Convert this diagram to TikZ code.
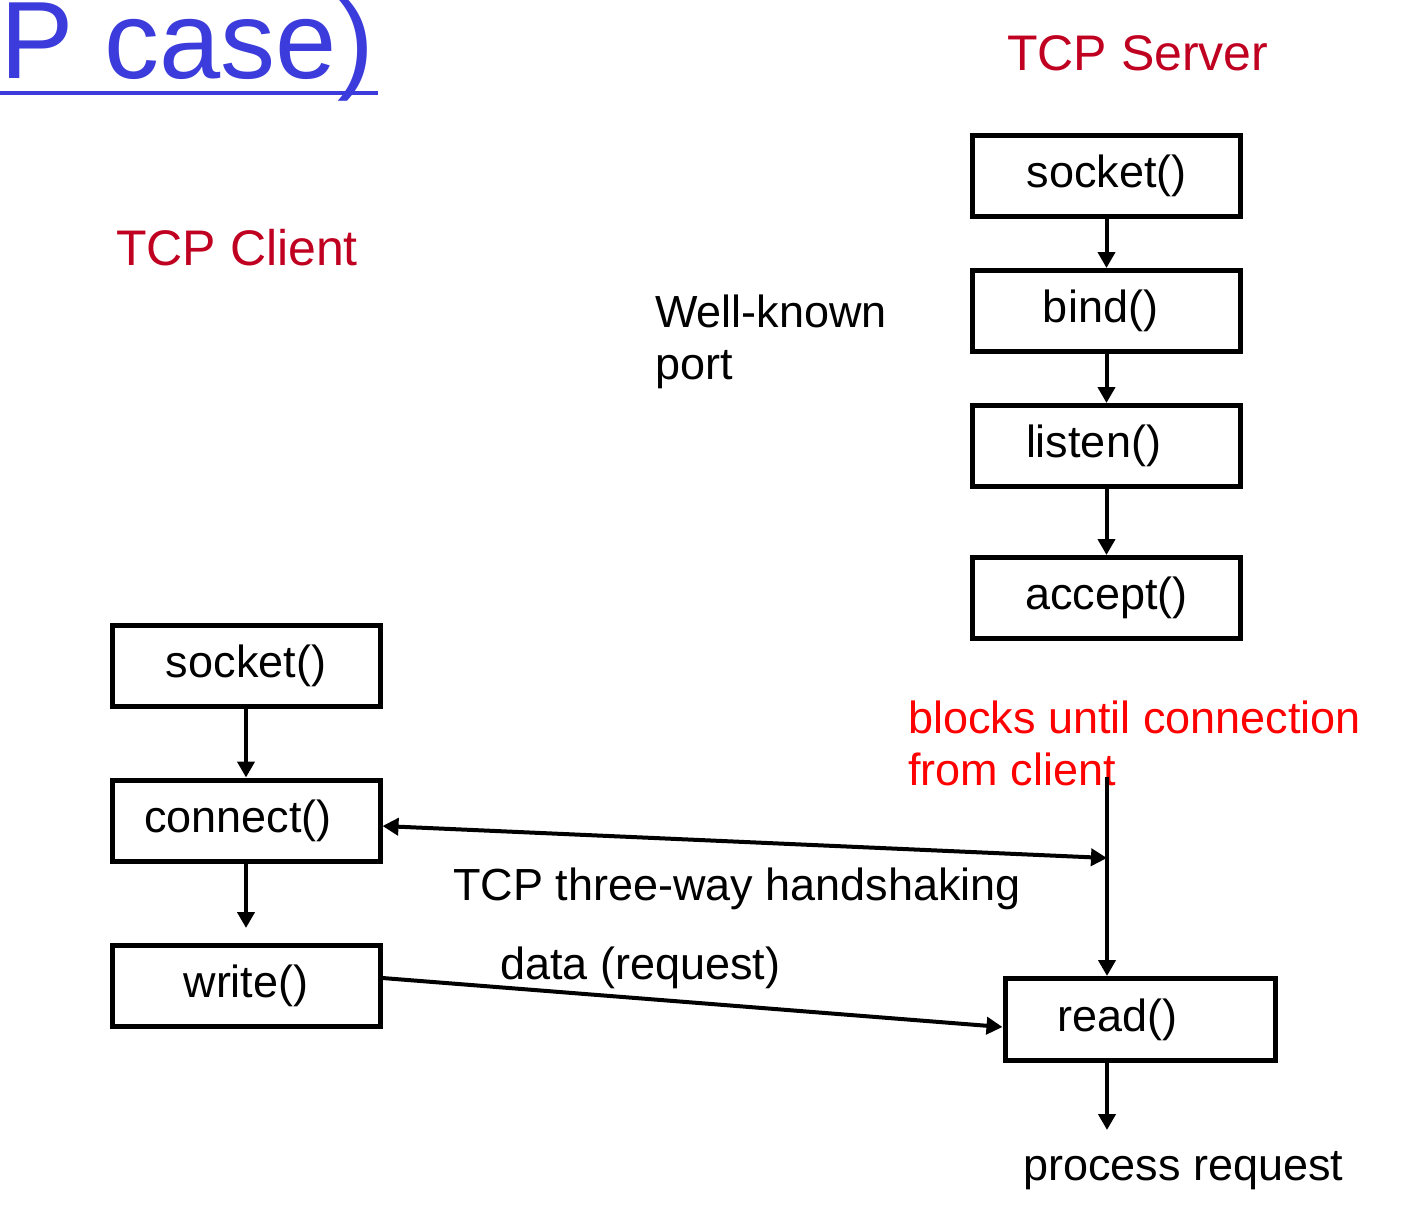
\documentclass[tikz,border=0pt]{standalone}
\usepackage{fontspec}
\setmainfont{Liberation Sans}
\usetikzlibrary{arrows.meta}
\definecolor{titleblue}{RGB}{60,60,220}
\definecolor{headred}{RGB}{192,0,32}
\definecolor{notered}{RGB}{255,0,0}
% nudge a box label to the left by #1 (half the kern is absorbed by centring)
\newcommand{\nudge}[1]{\hspace*{-#1}}

\begin{document}
\begin{tikzpicture}[x=1pt,y=-1pt,
  box/.style={draw, line width=5pt, minimum width=268pt, minimum height=81pt,
              inner sep=0pt, font=\fontsize{45}{54}\selectfont},
  tip/.tip={Triangle[length=16pt,width=17pt]},
  flow/.style={line width=4pt, -tip},
  txt/.style={font=\fontsize{45}{52}\selectfont, inner sep=0pt, align=left},
  head/.style={font=\fontsize{50}{60}\selectfont, text=headred, inner sep=0pt},
]
\useasboundingbox (0,0) rectangle (1410,1216);

% slide title, running off the left edge
\node[anchor=base east, inner sep=0pt, text=titleblue,
      font=\fontsize{110}{120}\selectfont] (title) at (374,78) {(TCP case)};
\draw[titleblue, line width=4pt] (-10,93) -- (378,93);

% headings
\node[head, anchor=base west] (srvhead) at (1007,70) {TCP Server};
\node[head, anchor=base west] (clihead) at (116,265) {TCP Client};

% server side
\node[box] (ssock) at (1106.5,176) {socket()};
\node[box] (sbind) at (1106.5,311) {\nudge{12pt}bind()};
\node[box] (slist) at (1106.5,446) {\nudge{26pt}listen()};
\node[box] (sacc)  at (1106.5,598) {accept()};
\draw[flow] (ssock) -- (sbind);
\draw[flow] (sbind) -- (slist);
\draw[flow] (slist) -- (sacc);

% two-line notes (base anchor sits on the last line)
\node[txt, anchor=base west] (wk) at (655,379) {Well-known\\port};
\node[txt, anchor=base west, text=notered] (blk) at (908,785) {blocks until connection\\from client};

% client side
\node[box] (csock) at (246,665.5) {socket()};
\node[box] (cconn) at (246,820.5) {\nudge{16pt}connect()};
\node[box] (cwrite) at (246,986) {write()};
\coordinate (cwend) at (246,928);
\draw[flow] (csock) -- (cconn);
\draw[flow] (cconn) -- (cwend);

% server read
\node[box, text width=165pt, inner xsep=52.5pt, align=left, minimum height=82pt]
  (read) at (1140,1019.5) {read()};
\coordinate (wait) at (1107,777);
\coordinate (hsend) at (1107,858);
\coordinate (proc) at (1107,1130);
\draw[flow] (wait) -- (wait |- read.north);
\draw[flow] (wait |- read.south) -- (proc);

% messages between client and server
\draw[line width=4pt, tip-tip] ([yshift=-5.5pt]cconn.east) -- (hsend);
\node[txt, anchor=base west] (hs) at (453,900) {TCP three-way handshaking};
\draw[flow] ([yshift=8pt]cwrite.east) -- ([yshift=-7.5pt]read.west);
\node[txt, anchor=base west] (req) at (500,979) {data (request)};
\node[txt, anchor=base west] (pr) at (1023,1180) {process request};
\end{tikzpicture}
\end{document}
